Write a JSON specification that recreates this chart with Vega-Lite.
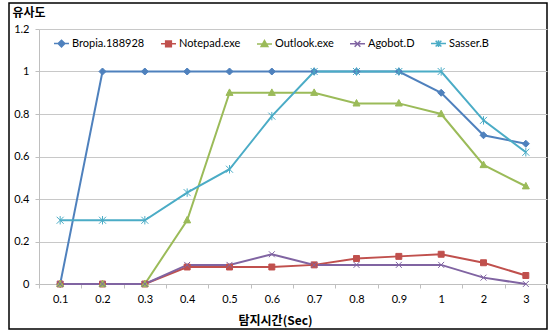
{
  "$schema": "https://vega.github.io/schema/vega-lite/v6.json",
  "width": 538,
  "height": 326,
  "autosize": {"type": "none"},
  "padding": {"left": 9, "top": 3, "right": 1, "bottom": 1},
  "background": "white",
  "config": {
    "view": {"stroke": "#000000", "strokeWidth": 1.5},
    "font": "Lato"
  },
  "data": {
    "values": [
      {"s": "Bropia.188928", "t": "0.1", "y": 0},
      {"s": "Bropia.188928", "t": "0.2", "y": 1},
      {"s": "Bropia.188928", "t": "0.3", "y": 1},
      {"s": "Bropia.188928", "t": "0.4", "y": 1},
      {"s": "Bropia.188928", "t": "0.5", "y": 1},
      {"s": "Bropia.188928", "t": "0.6", "y": 1},
      {"s": "Bropia.188928", "t": "0.7", "y": 1},
      {"s": "Bropia.188928", "t": "0.8", "y": 1},
      {"s": "Bropia.188928", "t": "0.9", "y": 1},
      {"s": "Bropia.188928", "t": "1", "y": 0.9},
      {"s": "Bropia.188928", "t": "2", "y": 0.7},
      {"s": "Bropia.188928", "t": "3", "y": 0.66},
      {"s": "Notepad.exe", "t": "0.1", "y": 0},
      {"s": "Notepad.exe", "t": "0.2", "y": 0},
      {"s": "Notepad.exe", "t": "0.3", "y": 0},
      {"s": "Notepad.exe", "t": "0.4", "y": 0.08},
      {"s": "Notepad.exe", "t": "0.5", "y": 0.08},
      {"s": "Notepad.exe", "t": "0.6", "y": 0.08},
      {"s": "Notepad.exe", "t": "0.7", "y": 0.09},
      {"s": "Notepad.exe", "t": "0.8", "y": 0.12},
      {"s": "Notepad.exe", "t": "0.9", "y": 0.13},
      {"s": "Notepad.exe", "t": "1", "y": 0.14},
      {"s": "Notepad.exe", "t": "2", "y": 0.1},
      {"s": "Notepad.exe", "t": "3", "y": 0.04},
      {"s": "Outlook.exe", "t": "0.1", "y": 0},
      {"s": "Outlook.exe", "t": "0.2", "y": 0},
      {"s": "Outlook.exe", "t": "0.3", "y": 0},
      {"s": "Outlook.exe", "t": "0.4", "y": 0.3},
      {"s": "Outlook.exe", "t": "0.5", "y": 0.9},
      {"s": "Outlook.exe", "t": "0.6", "y": 0.9},
      {"s": "Outlook.exe", "t": "0.7", "y": 0.9},
      {"s": "Outlook.exe", "t": "0.8", "y": 0.85},
      {"s": "Outlook.exe", "t": "0.9", "y": 0.85},
      {"s": "Outlook.exe", "t": "1", "y": 0.8},
      {"s": "Outlook.exe", "t": "2", "y": 0.56},
      {"s": "Outlook.exe", "t": "3", "y": 0.46},
      {"s": "Agobot.D", "t": "0.1", "y": 0},
      {"s": "Agobot.D", "t": "0.2", "y": 0},
      {"s": "Agobot.D", "t": "0.3", "y": 0},
      {"s": "Agobot.D", "t": "0.4", "y": 0.09},
      {"s": "Agobot.D", "t": "0.5", "y": 0.09},
      {"s": "Agobot.D", "t": "0.6", "y": 0.14},
      {"s": "Agobot.D", "t": "0.7", "y": 0.09},
      {"s": "Agobot.D", "t": "0.8", "y": 0.09},
      {"s": "Agobot.D", "t": "0.9", "y": 0.09},
      {"s": "Agobot.D", "t": "1", "y": 0.09},
      {"s": "Agobot.D", "t": "2", "y": 0.03},
      {"s": "Agobot.D", "t": "3", "y": 0},
      {"s": "Sasser.B", "t": "0.1", "y": 0.3},
      {"s": "Sasser.B", "t": "0.2", "y": 0.3},
      {"s": "Sasser.B", "t": "0.3", "y": 0.3},
      {"s": "Sasser.B", "t": "0.4", "y": 0.43},
      {"s": "Sasser.B", "t": "0.5", "y": 0.54},
      {"s": "Sasser.B", "t": "0.6", "y": 0.79},
      {"s": "Sasser.B", "t": "0.7", "y": 1},
      {"s": "Sasser.B", "t": "0.8", "y": 1},
      {"s": "Sasser.B", "t": "0.9", "y": 1},
      {"s": "Sasser.B", "t": "1", "y": 1},
      {"s": "Sasser.B", "t": "2", "y": 0.77},
      {"s": "Sasser.B", "t": "3", "y": 0.62}
    ]
  },
  "encoding": {
    "x": {
      "field": "t",
      "type": "ordinal",
      "scale": {
        "type": "band",
        "domain": ["0.1", "0.2", "0.3", "0.4", "0.5", "0.6", "0.7", "0.8", "0.9", "1", "2", "3"],
        "range": [30, 538],
        "paddingInner": 0,
        "paddingOuter": 0
      },
      "axis": {
        "title": "탐지시간(Sec)",
        "titleFont": "Noto Sans CJK KR",
        "titleFontWeight": "bold",
        "titleFontSize": 12,
        "titleColor": "#000000",
        "titleX": 266,
        "titleY": 36,
        "titleAlign": "center",
        "titleBaseline": "middle",
        "labelAngle": 0,
        "labelFont": "Lato",
        "labelFontSize": 11,
        "labelColor": "#000000",
        "labelPadding": 5,
        "tickBand": "extent",
        "tickSize": 4,
        "tickColor": "#BFBFBF",
        "domainColor": "#BFBFBF",
        "grid": false,
        "offset": -45
      }
    },
    "y": {
      "field": "y",
      "type": "quantitative",
      "scale": {"domain": [0, 1.2], "range": [281, 26], "nice": false, "zero": false},
      "axis": {
        "title": "유사도",
        "titleFont": "Noto Sans CJK KR",
        "titleFontWeight": "bold",
        "titleFontSize": 12,
        "titleColor": "#000000",
        "titleAngle": 0,
        "titleX": -27,
        "titleY": 9,
        "titleAlign": "left",
        "titleBaseline": "middle",
        "values": [0, 0.2, 0.4, 0.6, 0.8, 1, 1.2],
        "format": "~g",
        "labelFont": "Lato",
        "labelFontSize": 11,
        "labelColor": "#000000",
        "labelPadding": 6,
        "tickSize": 4,
        "tickColor": "#BFBFBF",
        "domainColor": "#BFBFBF",
        "gridColor": "#C8C8C8",
        "offset": -30
      }
    }
  },
  "layer": [
    {
      "mark": {"type": "line", "strokeWidth": 2},
      "encoding": {
        "stroke": {
          "field": "s",
          "type": "nominal",
          "scale": {
            "domain": ["Bropia.188928", "Notepad.exe", "Outlook.exe", "Agobot.D", "Sasser.B"],
            "range": ["#4F81BD", "#C0504D", "#9BBB59", "#8064A2", "#4BACC6"]
          },
          "legend": null
        }
      }
    },
    {
      "mark": {"type": "point", "filled": true, "opacity": 1, "size": 49, "strokeWidth": 1},
      "encoding": {
        "stroke": {
          "field": "s",
          "type": "nominal",
          "scale": {
            "domain": ["Bropia.188928", "Notepad.exe", "Outlook.exe", "Agobot.D", "Sasser.B"],
            "range": ["#4F81BD", "#C0504D", "#9BBB59", "#8064A2", "#4BACC6"]
          },
          "legend": null
        },
        "fill": {
          "field": "s",
          "type": "nominal",
          "scale": {
            "domain": ["Bropia.188928", "Notepad.exe", "Outlook.exe", "Agobot.D", "Sasser.B"],
            "range": ["#4F81BD", "#C0504D", "#9BBB59", "#8064A2", "#4BACC6"]
          },
          "legend": null
        },
        "shape": {
          "field": "s",
          "type": "nominal",
          "scale": {
            "domain": ["Bropia.188928", "Notepad.exe", "Outlook.exe", "Agobot.D", "Sasser.B"],
            "range": [
              "M0,-1L1,0L0,1L-1,0Z",
              "M-0.85,-0.85H0.85V0.85H-0.85Z",
              "M0,-1.1L1,0.75H-1Z",
              "M-0.85,-0.85L0.85,0.85M-0.85,0.85L0.85,-0.85",
              "M-1,-1L1,1M-1,1L1,-1M0,-1.2V1.2"
            ]
          },
          "legend": null
        }
      }
    },
    {
      "transform": [{"filter": "datum.y > 5"}],
      "mark": {"type": "point", "filled": true, "opacity": 1, "size": 225, "strokeWidth": 1.5},
      "encoding": {
        "stroke": {
          "field": "s",
          "type": "nominal",
          "scale": {
            "domain": ["Bropia.188928", "Notepad.exe", "Outlook.exe", "Agobot.D", "Sasser.B"],
            "range": ["#4F81BD", "#C0504D", "#9BBB59", "#8064A2", "#4BACC6"]
          },
          "legend": {"orient": "none", "legendX": 44, "legendY": 32, "direction": "horizontal", "columns": 5, "title": null, "symbolSize": 225, "symbolStrokeWidth": 1.5, "labelFont": "Lato", "labelFontSize": 11, "labelColor": "#000000", "labelOffset": 2, "columnPadding": 13}
        },
        "fill": {
          "field": "s",
          "type": "nominal",
          "scale": {
            "domain": ["Bropia.188928", "Notepad.exe", "Outlook.exe", "Agobot.D", "Sasser.B"],
            "range": ["#4F81BD", "#C0504D", "#9BBB59", "#8064A2", "#4BACC6"]
          },
          "legend": {"orient": "none", "legendX": 44, "legendY": 32, "direction": "horizontal", "columns": 5, "title": null, "symbolSize": 225, "symbolStrokeWidth": 1.5, "labelFont": "Lato", "labelFontSize": 11, "labelColor": "#000000", "labelOffset": 2, "columnPadding": 13}
        },
        "shape": {
          "field": "s",
          "type": "nominal",
          "scale": {
            "domain": ["Bropia.188928", "Notepad.exe", "Outlook.exe", "Agobot.D", "Sasser.B"],
            "range": [
              "M-1,0H1M0,-0.45L0.45,0L0,0.45L-0.45,0Z",
              "M-1,0H1M-0.38,-0.38H0.38V0.38H-0.38Z",
              "M-1,0H1M0,-0.45L0.45,0.35H-0.45Z",
              "M-1,0H1M-0.38,-0.38L0.38,0.38M-0.38,0.38L0.38,-0.38",
              "M-1,0H1M-0.38,-0.38L0.38,0.38M-0.38,0.38L0.38,-0.38M0,-0.45V0.45"
            ]
          },
          "legend": {"orient": "none", "legendX": 44, "legendY": 32, "direction": "horizontal", "columns": 5, "title": null, "symbolSize": 225, "symbolStrokeWidth": 1.5, "labelFont": "Lato", "labelFontSize": 11, "labelColor": "#000000", "labelOffset": 2, "columnPadding": 13}
        }
      }
    }
  ],
  "resolve": {"scale": {"shape": "independent", "stroke": "independent", "fill": "independent"}}
}
